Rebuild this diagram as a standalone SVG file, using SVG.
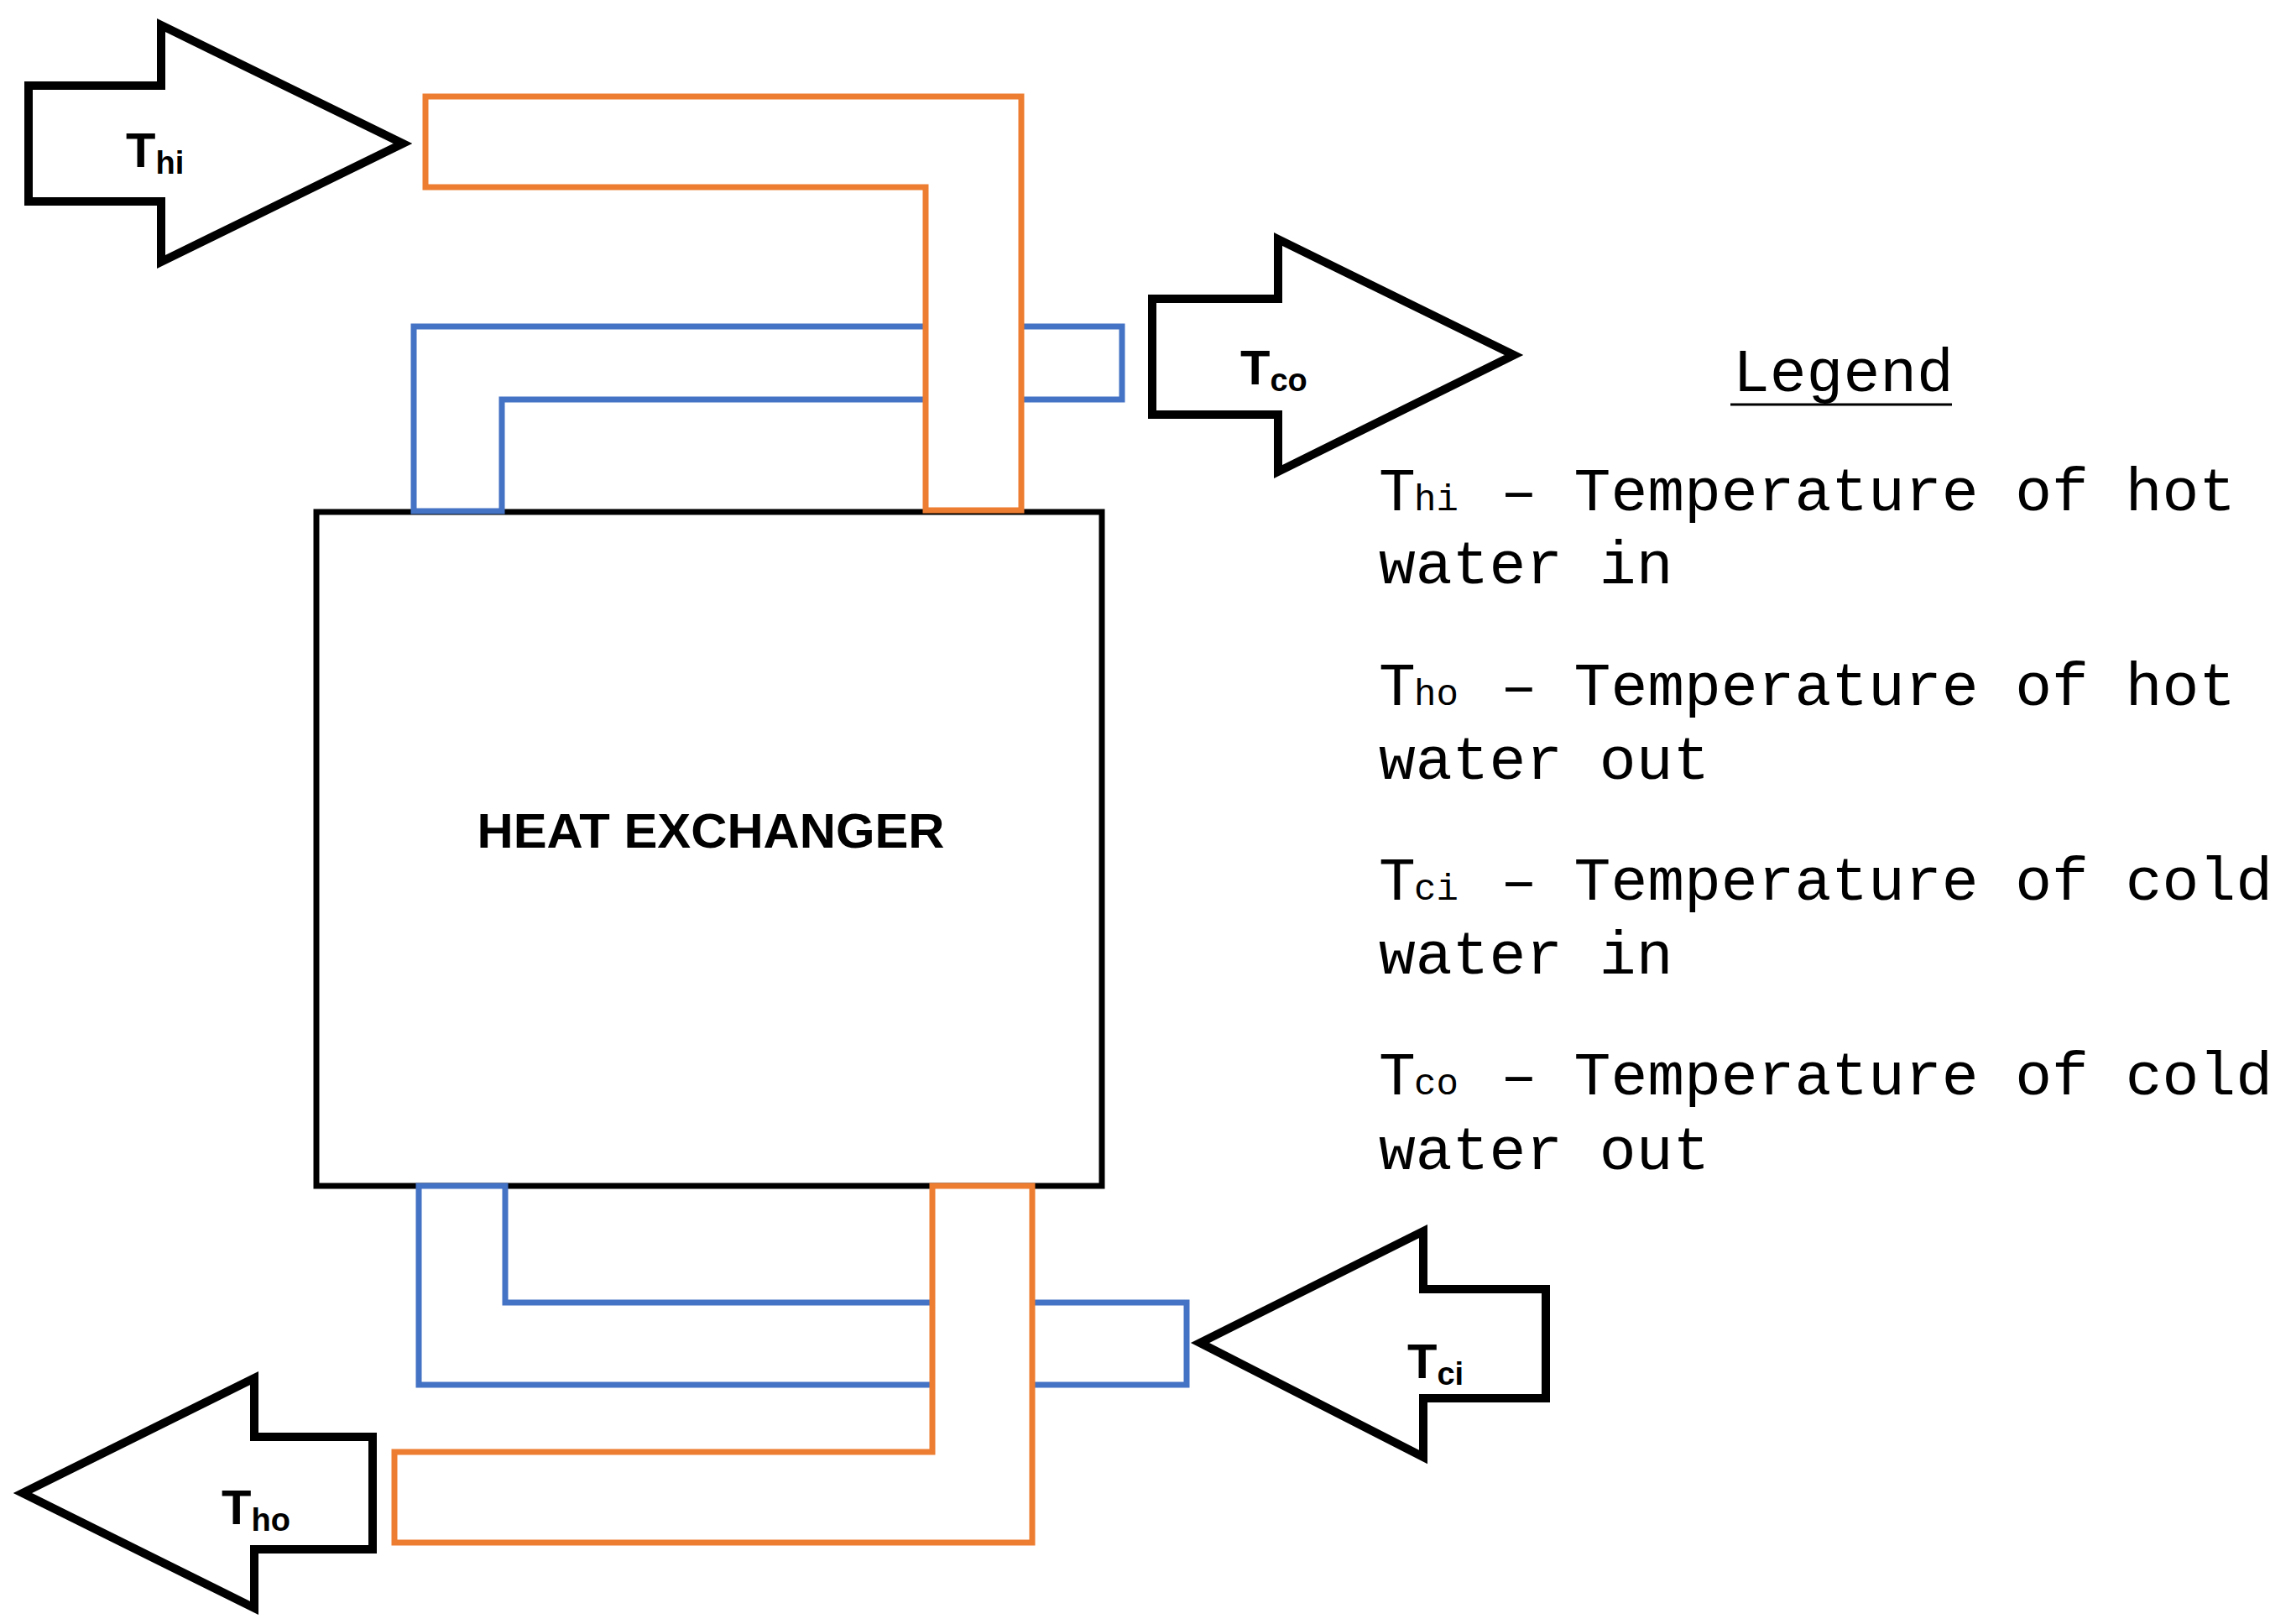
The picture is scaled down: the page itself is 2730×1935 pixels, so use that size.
<svg xmlns="http://www.w3.org/2000/svg" width="2730" height="1935" viewBox="0 0 2730 1935">
<style>
.arrow{fill:#fff;stroke:#000;stroke-width:10;stroke-linejoin:miter}
.hot{fill:#fff;stroke:#ED7D31;stroke-width:7}
.cold{fill:#fff;stroke:#4472C4;stroke-width:7}
.lbl{font-family:"Liberation Sans",Arial,sans-serif;font-weight:bold;font-size:58px;fill:#000}
.sub{font-size:38px}
.leg{font-family:"Liberation Mono","Courier New",monospace;font-size:73px;fill:#000}
.ls{font-size:44px}
</style>
<rect width="2730" height="1935" fill="#fff"/>
<g id="heat-exchanger">
<rect x="377" y="610" width="936" height="803" fill="#fff" stroke="#000" stroke-width="7"/>
<text x="847" y="1010" text-anchor="middle" class="lbl" font-size="62" textLength="557" lengthAdjust="spacingAndGlyphs">HEAT EXCHANGER</text>
</g>
<g id="connectors">
<path class="cold" d="M493,389 L1337,389 L1337,476 L598,476 L598,609 L493,609 Z"/>
<path class="hot" d="M507,115 L1217,115 L1217,608 L1103,608 L1103,223 L507,223 Z"/>
<path class="cold" d="M499,1413 L602,1413 L602,1552 L1414,1552 L1414,1650 L499,1650 Z"/>
<path class="hot" d="M1111,1413 L1230,1413 L1230,1838 L470,1838 L470,1730 L1111,1730 Z"/>
</g>
<g id="thi">
<polygon class="arrow" points="34,102 192,102 192,30 480,171 192,312 192,240 34,240"/>
<text x="150" y="199" class="lbl">T<tspan class="sub" dy="8">hi</tspan></text>
</g>
<g id="tco">
<polygon class="arrow" points="1373,356 1523,356 1523,285 1804,423 1523,562 1523,494 1373,494"/>
<text x="1478" y="458" class="lbl">T<tspan class="sub" dy="8">co</tspan></text>
</g>
<g id="tci">
<polygon class="arrow" points="1842,1536 1696,1536 1696,1467 1430,1600 1696,1736 1696,1666 1842,1666"/>
<text x="1677" y="1642" class="lbl">T<tspan class="sub" dy="8">ci</tspan></text>
</g>
<g id="tho">
<polygon class="arrow" points="444,1712 303,1712 303,1642 27,1779 303,1916 303,1846 444,1846"/>
<text x="264" y="1816" class="lbl">T<tspan class="sub" dy="8">ho</tspan></text>
</g>
<g id="legend">
<text x="2065" y="466" class="leg">Legend</text>
<line x1="2062" y1="482" x2="2326" y2="482" stroke="#000" stroke-width="3"/>
<text class="leg" y="608"><tspan x="1643">T</tspan><tspan x="1685" class="ls">hi</tspan><tspan x="1788">– Temperature of hot</tspan></text>
<text class="leg" x="1643" y="695">water in</text>
<text class="leg" y="840"><tspan x="1643">T</tspan><tspan x="1685" class="ls">ho</tspan><tspan x="1788">– Temperature of hot</tspan></text>
<text class="leg" x="1643" y="928">water out</text>
<text class="leg" y="1072"><tspan x="1643">T</tspan><tspan x="1685" class="ls">ci</tspan><tspan x="1788">– Temperature of cold</tspan></text>
<text class="leg" x="1643" y="1160">water in</text>
<text class="leg" y="1304"><tspan x="1643">T</tspan><tspan x="1685" class="ls">co</tspan><tspan x="1788">– Temperature of cold</tspan></text>
<text class="leg" x="1643" y="1393">water out</text>
</g>
</svg>
